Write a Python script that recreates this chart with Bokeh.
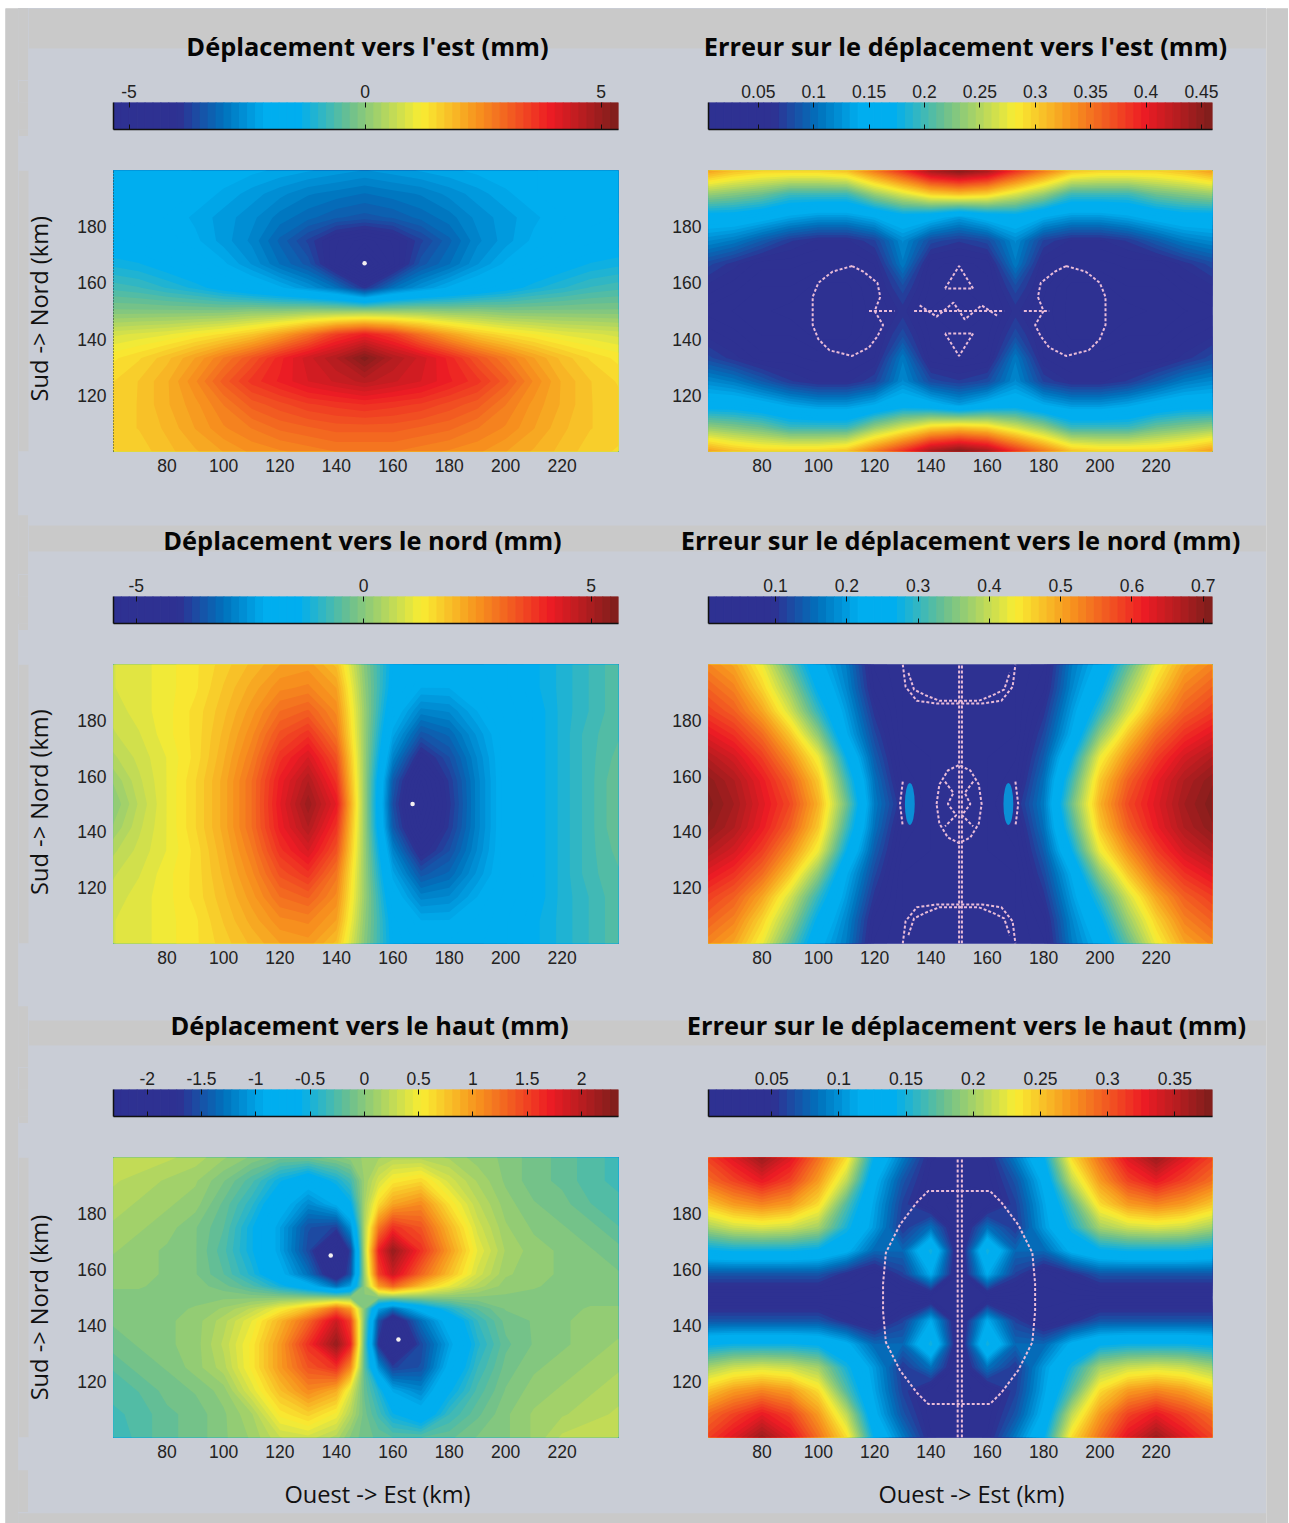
import numpy as np
from bokeh.embed import file_html
from bokeh.resources import INLINE
from bokeh.plotting import figure
from bokeh.layouts import row, column
from bokeh.models import Range1d, LinearAxis, FixedTicker, Spacer
from bokeh.core.properties import value

TITLES = [["Déplacement vers l'est (mm)", "Erreur sur le déplacement vers l'est (mm)"],
          ["Déplacement vers le nord (mm)", "Erreur sur le déplacement vers le nord (mm)"],
          ["Déplacement vers le haut (mm)", "Erreur sur le déplacement vers le haut (mm)"]]
XLABEL = "Ouest -> Est (km)"
YLABEL = "Sud -> Nord (km)"
X_TICKS = [80, 100, 120, 140, 160, 180, 200, 220]
Y_TICKS = [120, 140, 160, 180]

TICKS_E = [-5, 0, 5]
TICKS_EE = [0.05, 0.1, 0.15, 0.2, 0.25, 0.3, 0.35, 0.4, 0.45]
TICKS_N = [-5, 0, 5]
TICKS_EN = [0.1, 0.2, 0.3, 0.4, 0.5, 0.6, 0.7]
TICKS_U = [-2, -1.5, -1, -0.5, 0, 0.5, 1, 1.5, 2]
TICKS_EU = [0.05, 0.1, 0.15, 0.2, 0.25, 0.3, 0.35]
RANGE_E = (-5.33, 5.37)
RANGE_EE = (0.005, 0.46)
RANGE_N = (-5.5, 5.6)
RANGE_EN = (0.006, 0.713)
RANGE_U = (-2.31, 2.34)
RANGE_EU = (0.003, 0.378)

X_KM = [60, 70, 80, 90, 100, 110, 120, 130, 140, 150, 160, 170, 180, 190, 200, 210, 220, 230, 240]
Y_KM = [200, 191.7, 183.3, 175, 166.7, 158.3, 150, 141.7, 133.3, 125, 116.7, 108.3, 100]
X_KM_UP = [60, 70, 80, 90, 100, 110, 120, 130, 140, 145, 150, 155, 160, 170, 180, 190, 200, 210, 220, 230, 240]
Y_KM_UP = [200, 191.7, 183.3, 175, 166.7, 158.3, 154, 150, 146, 141.7, 133.3, 125, 116.7, 108.3, 100]

# rows run from north (top) to south (bottom), columns from west to east
EAST = [
[-1.9,-1.9,-1.9,-2,-2,-2.1,-2.2,-2.3,-2.4,-2.5,-2.4,-2.3,-2.2,-2.1,-2,-2,-1.9,-1.9,-1.9],
[-1.9,-1.9,-1.9,-2,-2.2,-2.4,-2.6,-2.8,-2.9,-3,-2.9,-2.8,-2.6,-2.4,-2.2,-2,-1.9,-1.9,-1.9],
[-1.8,-1.9,-2,-2.2,-2.4,-2.6,-2.9,-3.1,-3.3,-3.4,-3.3,-3.1,-2.9,-2.6,-2.4,-2.2,-2,-1.9,-1.8],
[-1.6,-1.7,-1.9,-2.1,-2.4,-2.7,-3.2,-3.7,-4.3,-4.6,-4.3,-3.7,-3.2,-2.7,-2.4,-2.1,-1.9,-1.7,-1.6],
[-1.2,-1.3,-1.5,-1.8,-2.1,-2.5,-3,-3.4,-4.4,-5.3,-4.4,-3.4,-3,-2.5,-2.1,-1.8,-1.5,-1.3,-1.2],
[-.7,-.8,-1,-1.2,-1.5,-1.8,-2.1,-2.5,-3,-3.9,-3,-2.5,-2.1,-1.8,-1.5,-1.2,-1,-.8,-.7],
[-.1,-.1,-.1,-.1,-.1,0,0,.1,.1,.1,.1,.1,0,0,-.1,-.1,-.1,-.1,-.1],
[.8,.9,1,1.2,1.4,1.7,2.2,2.8,3.5,3.9,3.5,2.8,2.2,1.7,1.4,1.2,1,.9,.8],
[1.3,1.5,1.8,2.2,2.7,3.2,3.8,4.3,4.7,5.3,4.7,4.3,3.8,3.2,2.7,2.2,1.8,1.5,1.3],
[1.5,1.7,2,2.5,3.1,3.6,3.9,4.2,4.4,4.6,4.4,4.2,3.9,3.6,3.1,2.5,2,1.7,1.5],
[1.6,1.7,2,2.3,2.7,3.1,3.3,3.5,3.6,3.7,3.6,3.5,3.3,3.1,2.7,2.3,2,1.7,1.6],
[1.6,1.7,1.9,2.2,2.5,2.7,2.9,3,3.1,3.1,3.1,3,2.9,2.7,2.5,2.2,1.9,1.7,1.6],
[1.5,1.6,1.8,2,2.2,2.4,2.5,2.6,2.7,2.7,2.7,2.6,2.5,2.4,2.2,2,1.8,1.6,1.5],
]
ERR_EAST = [
[.33,.31,.3,.3,.3,.31,.35,.39,.44,.46,.44,.39,.35,.31,.3,.3,.3,.31,.33],
[.24,.23,.22,.2,.2,.2,.24,.27,.3,.31,.3,.27,.24,.2,.2,.2,.22,.23,.24],
[.16,.16,.15,.135,.125,.125,.14,.16,.15,.13,.15,.16,.14,.125,.125,.135,.15,.16,.16],
[.12,.11,.09,.07,.06,.06,.075,.12,.08,.07,.08,.12,.075,.06,.06,.07,.09,.11,.12],
[.08,.065,.05,.05,.045,.045,.055,.11,.05,.045,.05,.11,.055,.045,.045,.05,.05,.065,.08],
[.06,.05,.04,.04,.03,.03,.05,.08,.045,.04,.045,.08,.05,.03,.03,.04,.04,.05,.06],
[.045,.04,.035,.03,.03,.03,.045,.065,.04,.03,.04,.065,.045,.03,.03,.03,.035,.04,.045],
[.06,.05,.04,.04,.03,.03,.05,.08,.045,.04,.045,.08,.05,.03,.03,.04,.04,.05,.06],
[.08,.065,.05,.05,.045,.045,.055,.11,.05,.045,.05,.11,.055,.045,.045,.05,.05,.065,.08],
[.12,.11,.09,.07,.06,.06,.075,.12,.08,.07,.08,.12,.075,.06,.06,.07,.09,.11,.12],
[.16,.16,.15,.135,.125,.125,.14,.16,.15,.13,.15,.16,.14,.125,.125,.135,.15,.16,.16],
[.24,.23,.22,.2,.2,.2,.24,.27,.3,.31,.3,.27,.24,.2,.2,.2,.22,.23,.24],
[.33,.31,.3,.3,.3,.31,.35,.39,.44,.46,.44,.39,.35,.31,.3,.3,.3,.31,.33],
]
NORTH = [
[.9,1,1.2,1.4,1.7,2,2.3,2.4,1.9,0,-1.5,-2,-2,-1.9,-1.7,-1.4,-1.1,-.8,-.5],
[.9,1,1.2,1.4,1.8,2.2,2.6,2.7,2.3,.1,-1.6,-2.2,-2.2,-2,-1.7,-1.4,-1.1,-.8,-.5],
[.8,1,1.2,1.5,1.9,2.4,3,3.2,2.6,.2,-1.9,-2.8,-2.7,-2.2,-1.8,-1.5,-1.1,-.8,-.5],
[.7,.9,1.2,1.5,2,2.6,3.4,3.8,2.9,.2,-2.3,-3.5,-3.2,-2.5,-1.9,-1.5,-1.1,-.7,-.5],
[.5,.8,1.1,1.5,2.1,2.8,3.8,4.4,3.4,.2,-2.8,-4.3,-3.6,-2.7,-1.9,-1.5,-1.1,-.7,-.4],
[.2,.7,1.1,1.6,2.2,3,4.1,4.9,3.8,.2,-3.4,-5,-3.9,-2.8,-1.9,-1.5,-1.1,-.7,-.3],
[0,.6,1.1,1.6,2.2,3,4.2,5.2,4.2,.2,-3.6,-5.3,-4,-2.8,-1.9,-1.5,-1.1,-.7,-.3],
[.2,.7,1.1,1.6,2.2,3,4.1,4.9,3.8,.2,-3.4,-5,-3.9,-2.8,-1.9,-1.5,-1.1,-.7,-.3],
[.5,.8,1.1,1.5,2.1,2.8,3.8,4.4,3.4,.2,-2.8,-4.3,-3.6,-2.7,-1.9,-1.5,-1.1,-.7,-.4],
[.7,.9,1.2,1.5,2,2.6,3.4,3.8,2.9,.2,-2.3,-3.5,-3.2,-2.5,-1.9,-1.5,-1.1,-.7,-.5],
[.8,1,1.2,1.5,1.9,2.4,3,3.2,2.6,.2,-1.9,-2.8,-2.7,-2.2,-1.8,-1.5,-1.1,-.8,-.5],
[.9,1,1.2,1.4,1.8,2.2,2.6,2.7,2.3,.1,-1.6,-2.2,-2.2,-2,-1.7,-1.4,-1.1,-.8,-.5],
[.9,1,1.2,1.4,1.7,2,2.3,2.4,1.9,0,-1.5,-2,-2,-1.9,-1.7,-1.4,-1.1,-.8,-.5],
]
ERR_NORTH = [
[.53,.5,.43,.33,.23,.17,.07,.05,.05,.05,.05,.05,.07,.17,.23,.33,.43,.5,.53],
[.56,.53,.46,.37,.26,.18,.08,.05,.05,.05,.05,.05,.08,.18,.26,.37,.46,.53,.56],
[.59,.56,.5,.41,.3,.2,.1,.05,.05,.05,.05,.05,.1,.2,.3,.41,.5,.56,.59],
[.63,.6,.55,.47,.36,.22,.12,.05,.05,.05,.05,.05,.12,.22,.36,.47,.55,.6,.63],
[.67,.64,.59,.52,.43,.27,.14,.06,.05,.05,.05,.06,.14,.27,.43,.52,.59,.64,.67],
[.7,.67,.62,.56,.47,.31,.16,.07,.05,.05,.05,.07,.16,.31,.47,.56,.62,.67,.7],
[.71,.68,.63,.58,.49,.34,.17,.09,.05,.05,.05,.09,.17,.34,.49,.58,.63,.68,.71],
[.7,.67,.62,.56,.47,.31,.16,.07,.05,.05,.05,.07,.16,.31,.47,.56,.62,.67,.7],
[.67,.64,.59,.52,.43,.27,.14,.06,.05,.05,.05,.06,.14,.27,.43,.52,.59,.64,.67],
[.63,.6,.55,.47,.36,.22,.12,.05,.05,.05,.05,.05,.12,.22,.36,.47,.55,.6,.63],
[.59,.56,.5,.41,.3,.2,.1,.05,.05,.05,.05,.05,.1,.2,.3,.41,.5,.56,.59],
[.56,.53,.46,.37,.26,.18,.08,.05,.05,.05,.05,.05,.08,.18,.26,.37,.46,.53,.56],
[.53,.5,.43,.33,.23,.17,.07,.05,.05,.05,.05,.05,.07,.17,.23,.33,.43,.5,.53],
]
UP = [
[.3,.3,.25,.2,.1,0,-.1,-.1,0,.05,.1,.15,.2,.2,.15,.05,0,-.1,-.15,-.25,-.3],
[.25,.2,.15,.1,-.05,-.25,-.55,-.8,-.5,-.3,.1,.35,.55,.65,.35,.15,0,-.1,-.15,-.25,-.3],
[.2,.15,.1,.05,-.15,-.4,-.8,-1.15,-.9,-.6,.15,.65,.95,1.1,.6,.25,.05,-.05,-.1,-.2,-.25],
[.15,.1,.05,-.05,-.2,-.55,-1,-1.5,-1.6,-1.1,.2,1.2,1.6,1.4,.85,.35,.1,0,-.05,-.1,-.2],
[.1,.05,0,-.05,-.25,-.55,-1,-1.55,-2.3,-1.6,.2,1.7,2.2,1.6,1,.45,.15,.05,0,-.05,-.1],
[.05,.05,0,-.05,-.2,-.45,-.85,-1.3,-2,-1.5,.1,1.5,1.9,1.3,.8,.35,.1,.05,0,-.05,-.05],
[.02,.02,0,-.02,-.1,-.25,-.5,-.8,-1.3,-1,.05,1,1.3,.8,.45,.2,.05,.02,0,-.02,-.02],
[0,0,0,0,0,0,0,0,0,0,0,0,0,0,0,0,0,0,0,0,0],
[-.02,-.02,0,.02,.1,.25,.5,.8,1.3,1,-.05,-1,-1.3,-.8,-.45,-.2,-.05,-.02,0,.02,.02],
[-.05,-.05,0,.05,.2,.45,.85,1.3,1.9,1.5,-.1,-1.5,-2,-1.3,-.8,-.35,-.1,-.05,0,.05,.05],
[-.1,-.05,0,.05,.25,.55,1,1.6,2.2,1.7,-.2,-1.7,-2.3,-1.55,-1,-.45,-.15,-.05,0,.05,.1],
[-.2,-.1,-.05,.05,.2,.55,1,1.4,1.6,1.1,-.2,-1.1,-1.6,-1.5,-.85,-.35,-.1,0,.05,.1,.15],
[-.25,-.2,-.1,-.05,.05,.4,.8,1.1,.9,.4,-.15,-.45,-.95,-1.15,-.6,-.25,-.05,.05,.1,.15,.2],
[-.3,-.25,-.15,-.1,0,.15,.55,.7,.5,.2,-.1,-.3,-.55,-.8,-.35,-.15,0,.1,.15,.2,.25],
[-.35,-.25,-.15,-.1,0,.1,.3,.35,.2,0,-.1,-.15,-.2,-.2,-.15,-.05,0,.1,.25,.3,.3],
]
ERR_UP = [
[.31,.335,.365,.335,.29,.24,.14,.09,.045,.04,.045,.09,.14,.24,.29,.335,.365,.335,.31],
[.29,.31,.33,.31,.27,.21,.12,.07,.04,.04,.04,.07,.12,.21,.27,.31,.33,.31,.29],
[.25,.27,.28,.27,.24,.17,.11,.06,.035,.03,.035,.06,.11,.17,.24,.27,.28,.27,.25],
[.2,.215,.22,.215,.2,.15,.105,.055,.085,.03,.085,.055,.105,.15,.2,.215,.22,.215,.2],
[.14,.145,.145,.145,.14,.12,.08,.08,.15,.03,.15,.08,.08,.12,.14,.145,.145,.145,.14],
[.07,.07,.07,.07,.07,.05,.035,.06,.115,.03,.115,.06,.035,.05,.07,.07,.07,.07,.07],
[.03,.03,.03,.03,.03,.03,.03,.03,.03,.03,.03,.03,.03,.03,.03,.03,.03,.03,.03],
[.07,.07,.07,.07,.07,.05,.035,.06,.115,.03,.115,.06,.035,.05,.07,.07,.07,.07,.07],
[.14,.145,.145,.145,.14,.12,.08,.08,.15,.03,.15,.08,.08,.12,.14,.145,.145,.145,.14],
[.2,.215,.22,.215,.2,.15,.105,.055,.085,.03,.085,.055,.105,.15,.2,.215,.22,.215,.2],
[.25,.27,.28,.27,.24,.17,.11,.06,.035,.03,.035,.06,.11,.17,.24,.27,.28,.27,.25],
[.29,.31,.33,.31,.27,.21,.12,.07,.04,.04,.04,.07,.12,.21,.27,.31,.33,.31,.29],
[.31,.335,.365,.335,.29,.24,.14,.09,.045,.04,.045,.09,.14,.24,.29,.335,.365,.335,.31],
]

# noise specks along the singular curves of the error maps (km)
SPECK_EE = [
 ([112,105,100,98,98,98,100,104,112,118,121,123,120,122,121,116,112],[166,164,160,155,150,145,140,136,134,137,141,145,150,155,160,164,166]),
 ([188,195,200,202,202,202,200,196,188,182,179,177,180,178,179,184,188],[166,164,160,155,150,145,140,136,134,137,141,145,150,155,160,164,166]),
 ([118,127],[150,150]), ([134,166],[150,150]), ([173,182],[150,150]),
 ([136,142,148,152,158,164],[152,148,153,147,152,148]),
 ([145,150,155,145],[158,166,158,158]), ([145,150,155,145],[142,134,142,142]),
]
SPECK_EN = [
 ([130,131,135,142,150,158,165,169,170],[200,192,187,186,186,186,187,192,200]),
 ([130,131,135,142,150,158,165,169,170],[100,108,113,114,114,114,113,108,100]),
 ([132,134,138,143,150,157,162,166,168],[197,191,189,187,187,187,189,191,197]),
 ([132,134,138,143,150,157,162,166,168],[103,109,111,113,113,113,111,109,103]),
 ([150,150],[100,200]), ([151,151],[100,200]),
 ([142,143,146,150,154,157,158,157,154,150,146,143,142],[150,157,162,164,162,157,150,143,138,136,138,143,150]),
 ([145,148,146,149,145],[158,154,150,146,142]), ([155,152,154,151,155],[158,154,150,146,142]),
 ([130,129,130],[158,150,142]), ([170,171,170],[158,150,142]),
]
SPECK_EU = [
 ([150,139,135,129,124,123,123,123,124,129,135,139,150,161,165,171,176,177,177,177,176,171,165,161,150],
  [188,188,184,176,166,155,150,145,134,124,116,112,112,112,116,124,134,145,150,155,166,176,184,188,188]),
 ([149.5,149.5],[100,200]), ([151,151],[100,200]),
]
BLOB_EN = ([132.5, 167.5], [150, 150])
PEAK_E = ([150],[167])
PEAK_N = ([167],[150])
PEAK_U = ([138,162],[165,135])

ANCHOR_POS = [0, .13, .22, .30, .37, .47, .61, .72, .865, 1]
ANCHOR_COL = [(46,49,146),(46,49,146),(0,114,188),(0,174,239),(0,174,239),(109,192,141),(249,237,50),(247,148,30),(237,28,36),(125,30,28)]
t = (np.arange(64) + .5) / 64
PALETTE = ["#%02x%02x%02x" % tuple(int(round(np.interp(f, ANCHOR_POS, [c[k] for c in ANCHOR_COL]))) for k in range(3)) for f in t]

OUTER = "#c9c9c9"
PANEL = "#c9cdd6"
INK = "#222222"
TITLE_FONT = "Open Sans"
TICK_FONT = "Liberation Sans"

COL_W = [618, 620]
LABEL_W = 40
GUTTER = 10
FRAME_L = [85, 62]
FRAME_W = [505, 504]
TITLE_H = [72, 59, 61]
BAND = [(0, 40), (10, 36), (14, 39)]
TITLE_Y = [37, 24, 18]
TITLE_X = [[339, 937], [334, 932], [341, 938]]
HEAT_H = [379, 376, 347]
HEAT_TOP = [34, 34, 34]
HEAT_FRAME = [281, 279, 280]
FOOT_H = 42
FOOT_X = [349, 943]
FOOT_Y = 23
YLABEL_X = GUTTER + 10
YLABEL_DY = 12


def blank(width, height):
    p = figure(width=width, height=height, x_range=Range1d(0, 1), y_range=Range1d(0, 1),
               toolbar_location=None, output_backend="svg", min_border=0, outline_line_color=None,
               background_fill_color=OUTER, border_fill_color=OUTER)
    p.axis.visible = False
    p.grid.visible = False
    p.quad(left=[0], right=[1], bottom=[0], top=[1], fill_color=OUTER, line_color=OUTER)
    return p


def strip(height):
    p = figure(width=sum(COL_W), height=height, x_range=Range1d(0, sum(COL_W)),
               y_range=Range1d(height, 0), toolbar_location=None, output_backend="svg",
               min_border=0, outline_line_color=None, background_fill_color=PANEL, border_fill_color=PANEL)
    p.axis.visible = False
    p.grid.visible = False
    return p


def title_strip(i):
    p = strip(TITLE_H[i])
    p.quad(left=[0], right=[sum(COL_W)], top=[BAND[i][0]], bottom=[BAND[i][1]], fill_color=OUTER, line_color=None)
    p.text(x=TITLE_X[i], y=[TITLE_Y[i]] * 2, text=TITLES[i], text_font=value(TITLE_FONT), text_font_style="bold",
           text_font_size="25.4px", text_align="center", text_baseline="middle", text_color="#050505")
    return row(blank(GUTTER, TITLE_H[i]), p)


def footer():
    p = strip(FOOT_H)
    p.text(x=FOOT_X, y=[FOOT_Y] * 2, text=[XLABEL] * 2, text_font=value(TITLE_FONT), text_font_size="23.6px",
           text_align="center", text_baseline="middle", text_color="#111111")
    return row(blank(GUTTER, FOOT_H), p)


def ylabel_fig(r):
    h = HEAT_H[r]
    w = GUTTER + LABEL_W
    p = figure(width=w, height=h, x_range=Range1d(0, w), y_range=Range1d(h, 0),
               toolbar_location=None, output_backend="svg", min_border=0, outline_line_color=None,
               background_fill_color=PANEL, border_fill_color=PANEL)
    p.axis.visible = False
    p.grid.visible = False
    p.quad(left=[0], right=[GUTTER], top=[0], bottom=[h], fill_color=OUTER, line_color=None)
    p.text(x=[YLABEL_X], y=[HEAT_TOP[r] + HEAT_FRAME[r] / 2 + YLABEL_DY], text=[YLABEL], angle=np.pi / 2,
           text_font=value(TITLE_FONT), text_font_size="23.6px", text_align="center", text_baseline="middle",
           text_color="#111111")
    return p


def colorbar(col, rng, ticks):
    p = figure(width=COL_W[col], height=56, x_range=Range1d(*rng), y_range=Range1d(0, 1),
               toolbar_location=None, output_backend="svg", x_axis_location=None, y_axis_location=None,
               min_border_left=FRAME_L[col], min_border_right=COL_W[col] - FRAME_L[col] - FRAME_W[col],
               min_border_top=22, min_border_bottom=7, outline_line_color=None,
               background_fill_color=PANEL, border_fill_color=PANEL)
    p.grid.visible = False
    edges = np.linspace(rng[0], rng[1], len(PALETTE) + 1)
    p.quad(left=edges[:-1], right=edges[1:], bottom=0, top=1, fill_color=PALETTE, line_color=PALETTE)
    over = {tk: str(tk) for tk in ticks}
    top = LinearAxis(ticker=FixedTicker(ticks=ticks), major_label_overrides=over, axis_line_color=None,
                     major_tick_in=5, major_tick_out=0, major_tick_line_color="#111111", minor_tick_line_color=None,
                     major_label_text_font=TICK_FONT, major_label_text_font_size="17.5px",
                     major_label_text_color=INK, major_label_standoff=5)
    p.add_layout(top, "above")
    bot = LinearAxis(ticker=FixedTicker(ticks=ticks), major_label_overrides={tk: "" for tk in ticks},
                     axis_line_color="#111111", axis_line_width=1.5, major_tick_in=5, major_tick_out=0,
                     major_tick_line_color="#111111", minor_tick_line_color=None, major_label_text_font_size="1px")
    p.add_layout(bot, "below")
    left = LinearAxis(ticker=FixedTicker(ticks=[]), axis_line_color="#111111", axis_line_width=1.5,
                      major_tick_line_color=None, minor_tick_line_color=None, major_label_text_font_size="1px")
    p.add_layout(left, "left")
    return p


def heat(r, col, grid, rng, xs, ys, specks=None, peaks=None, blobs=None):
    bottom = HEAT_H[r] - HEAT_TOP[r] - HEAT_FRAME[r]
    shift = LABEL_W if col == 0 else 0
    p = figure(width=COL_W[col] - shift, height=HEAT_H[r], x_range=Range1d(61, 240), y_range=Range1d(100, 200),
               toolbar_location=None, output_backend="svg",
               min_border_left=FRAME_L[col] - shift, min_border_right=COL_W[col] - FRAME_L[col] - FRAME_W[col],
               min_border_top=HEAT_TOP[r], min_border_bottom=bottom, outline_line_color=None,
               background_fill_color=PANEL, border_fill_color=PANEL)
    p.grid.visible = False
    z = np.flipud(np.array(grid, dtype=float))
    levels = np.linspace(rng[0], rng[1], len(PALETTE) + 1)
    top_level = max(z.max(), levels[-1]) + 1
    # each band is the region above its lower level, painted over the band below it
    for i, colour in enumerate(PALETTE):
        if levels[i] < z.max():
            p.contour(xs, ys[::-1], z, levels=[levels[i], top_level], fill_color=colour, line_color=None)
    if blobs:
        p.ellipse(x=blobs[0], y=blobs[1], width=3.5, height=15, fill_color="#0a8fd6", line_color=None)
    if specks:
        p.multi_line(xs=[s[0] for s in specks], ys=[s[1] for s in specks], line_color="#e9bcd8",
                     line_width=2, line_dash="3 2")
    if peaks:
        p.scatter(x=peaks[0], y=peaks[1], size=4.5, color="#f4f0f0", line_color=None)
    for ax, tk in ((p.xaxis[0], X_TICKS), (p.yaxis[0], Y_TICKS)):
        ax.ticker = FixedTicker(ticks=tk)
        ax.axis_line_color = None
        ax.major_tick_line_color = None
        ax.minor_tick_line_color = None
        ax.major_tick_in = 0
        ax.major_tick_out = 0
        ax.major_label_text_font = TICK_FONT
        ax.major_label_text_font_size = "17.5px"
        ax.major_label_text_color = INK
        ax.major_label_standoff = 7
    if r == 0 and col == 0:
        p.yaxis[0].axis_line_color = "#333333"
        p.yaxis[0].axis_line_dash = "1 2"
    return p


rows = []
SPEC = [
    ((EAST, RANGE_E, TICKS_E, X_KM, Y_KM, None, PEAK_E, None), (ERR_EAST, RANGE_EE, TICKS_EE, X_KM, Y_KM, SPECK_EE, None, None)),
    ((NORTH, RANGE_N, TICKS_N, X_KM, Y_KM, None, PEAK_N, None), (ERR_NORTH, RANGE_EN, TICKS_EN, X_KM, Y_KM, SPECK_EN, None, BLOB_EN)),
    ((UP, RANGE_U, TICKS_U, X_KM_UP, Y_KM_UP, None, PEAK_U, None), (ERR_UP, RANGE_EU, TICKS_EU, X_KM, Y_KM, SPECK_EU, None, None)),
]
for r, (a, b) in enumerate(SPEC):
    rows.append(title_strip(r))
    rows.append(row(blank(GUTTER, 56), colorbar(0, a[1], a[2]), colorbar(1, b[1], b[2])))
    rows.append(row(ylabel_fig(r),
                    heat(r, 0, a[0], a[1], a[3], a[4], a[5], a[6], a[7]),
                    heat(r, 1, b[0], b[1], b[3], b[4], b[5], b[6], b[7])))
rows.append(footer())

body = column(*rows, blank(GUTTER + sum(COL_W), 11), styles={"background-color": PANEL})
sheet = row(blank(13, 1515), body, blank(22, 1515))
root = column(Spacer(width=1283, height=8), row(Spacer(width=5, height=1515), sheet))
open("out.html", "w").write(file_html(root, INLINE))
